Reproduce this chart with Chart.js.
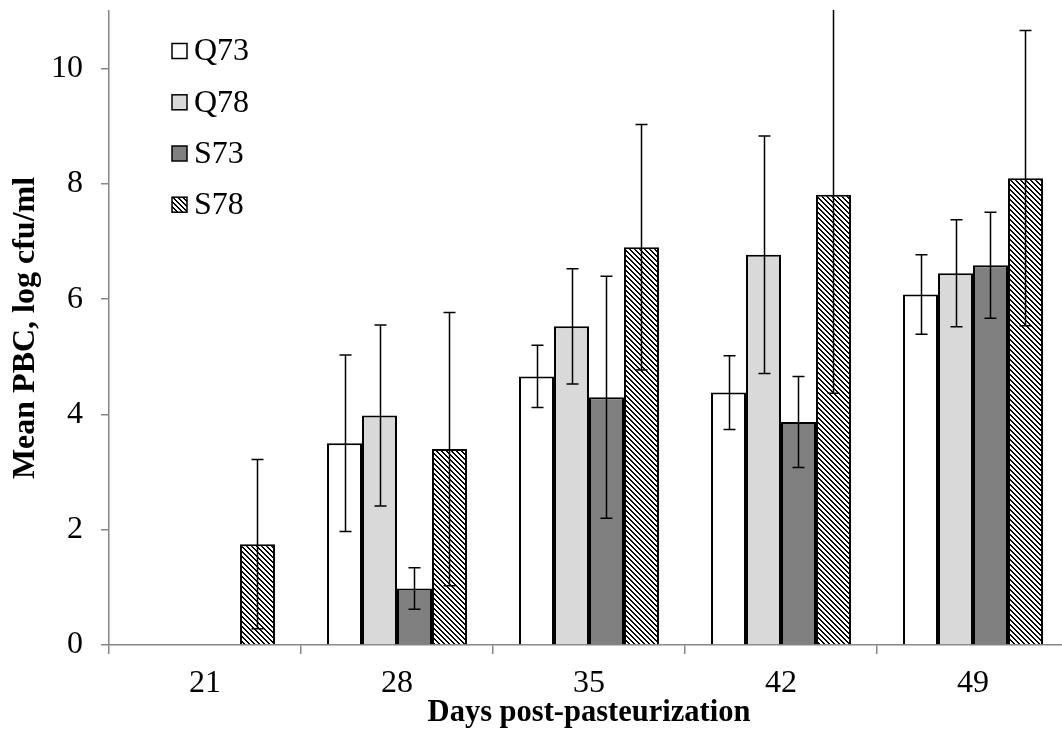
<!DOCTYPE html>
<html><head><meta charset="utf-8">
<script src="https://cdn.jsdelivr.net/npm/chart.js@4.4.0/dist/chart.umd.min.js"></script>
<style>
html,body{margin:0;padding:0;background:#fff;overflow:hidden;width:1062px;height:731px}
#wrap{width:1080px;height:731px}
</style></head>
<body><div id="wrap"><canvas id="c" width="1080" height="731"></canvas></div>
<script>
// ---- data ----
const categories = ['21', '28', '35', '42', '49'];
const seriesNames = ['Q73', 'Q78', 'S73', 'S78'];
const q73 = [null, 3.50, 4.66, 4.38, 6.08];
const q73Err = [null, 1.53, 0.54, 0.64, 0.69];
const q78 = [null, 3.98, 5.53, 6.77, 6.45];
const q78Err = [null, 1.57, 1.00, 2.06, 0.93];
const s73 = [null, 0.98, 4.30, 3.87, 6.59];
const s73Err = [null, 0.36, 2.10, 0.79, 0.92];
const s78 = [1.75, 3.40, 6.90, 7.81, 8.10];
const s78Err = [1.47, 2.37, 2.13, 3.44, 2.56];
const yTicks = [0, 2, 4, 6, 8, 10];
const yMax = 11;

const FONT = "'Liberation Serif','Times New Roman',serif";
const AXIS = '#868686';

function hatch() {
  const c = document.createElement('canvas');
  c.width = c.height = 5;
  const g = c.getContext('2d');
  g.fillStyle = '#fff'; g.fillRect(0, 0, 5, 5);
  g.fillStyle = '#000';
  for (let y = 0; y < 5; y++) for (let x = 0; x < 5; x++) {
    const d = ((x - y) % 5 + 5) % 5;
    if (d === 0 || d === 1) g.fillRect(x, y, 1, 1);
  }
  return g.createPattern(c, 'repeat');
}
const hatchFill = hatch();

const fills = ['#ffffff', '#d9d9d9', '#808080', hatchFill];
const values = [q73, q78, s73, s78];
const errs = [q73Err, q78Err, s73Err, s78Err];

const errorBars = {
  id: 'errorBars',
  afterDatasetsDraw(chart) {
    const ctx = chart.ctx, ys = chart.scales.y, a = chart.chartArea;
    ctx.save();
    ctx.beginPath();
    ctx.rect(a.left, a.top - 1, a.right - a.left, a.bottom - a.top + 2);
    ctx.clip();
    ctx.strokeStyle = '#000';
    ctx.lineWidth = 1.5;
    chart.data.datasets.forEach((ds, i) => {
      const meta = chart.getDatasetMeta(i);
      meta.data.forEach((bar, j) => {
        const v = ds.data[j], e = ds.errors[j];
        if (v == null || e == null) return;
        const x = Math.round(bar.x) + 0.5;
        const yt = ys.getPixelForValue(v + e), yb = ys.getPixelForValue(v - e);
        ctx.beginPath();
        ctx.moveTo(x, yt); ctx.lineTo(x, yb);
        ctx.moveTo(x - 6, yt); ctx.lineTo(x + 6, yt);
        ctx.moveTo(x - 6, yb); ctx.lineTo(x + 6, yb);
        ctx.stroke();
      });
    });
    ctx.restore();
  }
};

const innerLegend = {
  id: 'innerLegend',
  afterDraw(chart) {
    const ctx = chart.ctx;
    const x0 = 172, rows = [51, 102.3, 153.5, 204.7], box = 15;
    ctx.save();
    ctx.font = '32px ' + FONT;
    ctx.textBaseline = 'middle';
    ctx.textAlign = 'left';
    chart.data.datasets.forEach((ds, i) => {
      const cy = rows[i];
      ctx.fillStyle = ds.backgroundColor;
      ctx.fillRect(x0, cy - box / 2, box, box);
      ctx.strokeStyle = '#000';
      ctx.lineWidth = 1.5;
      ctx.strokeRect(x0, cy - box / 2, box, box);
      ctx.fillStyle = '#000';
      ctx.fillText(ds.label, x0 + box + 7, cy + 1);
    });
    ctx.restore();
  }
};

new Chart(document.getElementById('c'), {
  type: 'bar',
  data: {
    labels: categories,
    datasets: seriesNames.map((n, i) => ({
      label: n,
      data: values[i],
      errors: errs[i],
      backgroundColor: fills[i],
      borderColor: '#000',
      borderWidth: 2,
      categoryPercentage: 0.729,
      barPercentage: 1.0
    }))
  },
  options: {
    responsive: false,
    animation: false,
    devicePixelRatio: 1,
    layout: { padding: { left: 0, top: 11, right: 11, bottom: 0 } },
    plugins: { legend: { display: false }, tooltip: { enabled: false } },
    scales: {
      x: {
        afterFit: s => { s.height = 86; s.paddingLeft = 0; s.paddingRight = 0; },
        grid: { offset: true, drawOnChartArea: false, drawTicks: true, tickLength: 9, color: AXIS, lineWidth: 1.5 },
        border: { display: true, color: AXIS, width: 1.5 },
        ticks: { color: '#000', font: { family: FONT, size: 32 }, padding: 10 },
        title: { display: true, text: 'Days post-pasteurization', color: '#000',
                 font: { family: FONT, size: 30.5, weight: 'bold', lineHeight: 1 }, padding: { top: 0, bottom: 3 } }
      },
      y: {
        min: 0, max: yMax,
        afterFit: s => { s.width = 109; s.paddingTop = 0; s.paddingBottom = 0; },
        afterBuildTicks: s => { s.ticks = yTicks.map(v => ({ value: v })); },
        grid: { drawOnChartArea: false, drawTicks: true, tickLength: 8, color: AXIS, lineWidth: 1.5 },
        border: { display: true, color: AXIS, width: 1.5 },
        ticks: { color: '#000', font: { family: FONT, size: 32 }, padding: 18 },
        title: { display: true, text: 'Mean PBC, log cfu/ml', color: '#000',
                 font: { family: FONT, size: 32, weight: 'bold' }, padding: { top: 7, bottom: 0 } }
      }
    }
  },
  plugins: [errorBars, innerLegend]
});
</script>
</body></html>
